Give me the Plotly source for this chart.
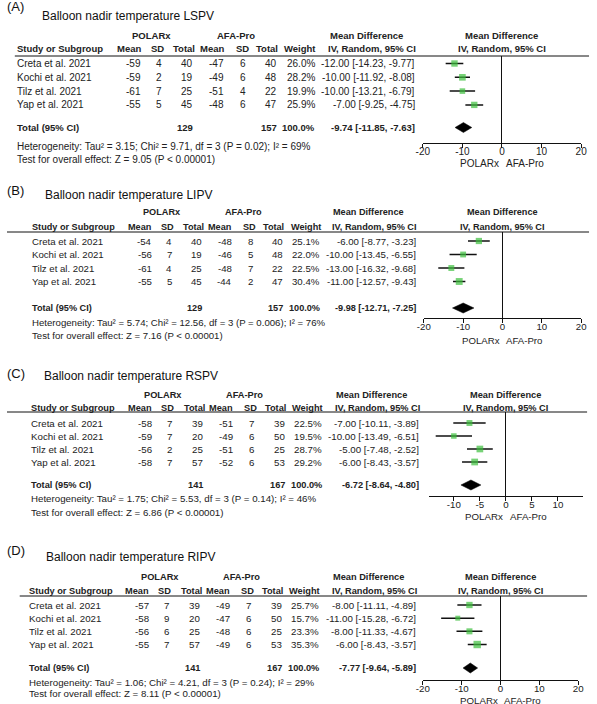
import plotly.graph_objects as go

W, H = 597, 704
FONT = "Liberation Sans, Arial, sans-serif"
TXT = "#222222"
GREEN = "#3dbf3d"

# ---------------- data ----------------
studies = ["Creta et al. 2021", "Kochi et al. 2021", "Tilz et al. 2021", "Yap et al. 2021"]
panel_labels = ["(A)", "(B)", "(C)", "(D)"]
panel_titles = ["Balloon nadir temperature LSPV", "Balloon nadir temperature LIPV",
                "Balloon nadir temperature RSPV", "Balloon nadir temperature RIPV"]
group_headers = ["POLARx", "AFA-Pro", "Mean Difference"]
column_headers = ["Mean", "SD", "Total", "Mean", "SD", "Total", "Weight", "IV, Random, 95% CI"]
favours = ["POLARx", "AFA-Pro"]
ticks_20 = [-20, -10, 0, 10, 20]
ticks_10 = [-10, -5, 0, 5, 10]

# LSPV
lspv_pol_mean = [-59, -59, -61, -55]
lspv_pol_sd = [4, 2, 7, 5]
lspv_pol_n = [40, 19, 25, 45]
lspv_afa_mean = [-47, -49, -51, -48]
lspv_afa_sd = [6, 6, 4, 6]
lspv_afa_n = [40, 48, 22, 47]
lspv_weight = [26.0, 28.2, 19.9, 25.9]
lspv_md = [-12.00, -10.00, -10.00, -7.00]
lspv_lo = [-14.23, -11.92, -13.21, -9.25]
lspv_hi = [-9.77, -8.08, -6.79, -4.75]
lspv_total_n = [129, 157]
lspv_total_w = 100.0
lspv_total_ci = [-9.74, -11.85, -7.63]
lspv_het = "Heterogeneity: Tau² = 3.15; Chi² = 9.71, df = 3 (P = 0.02); I² = 69%"
lspv_test = "Test for overall effect: Z = 9.05 (P < 0.00001)"

# LIPV
lipv_pol_mean = [-54, -56, -61, -55]
lipv_pol_sd = [4, 7, 4, 5]
lipv_pol_n = [40, 19, 25, 45]
lipv_afa_mean = [-48, -46, -48, -44]
lipv_afa_sd = [8, 5, 7, 2]
lipv_afa_n = [40, 48, 22, 47]
lipv_weight = [25.1, 22.0, 22.5, 30.4]
lipv_md = [-6.00, -10.00, -13.00, -11.00]
lipv_lo = [-8.77, -13.45, -16.32, -12.57]
lipv_hi = [-3.23, -6.55, -9.68, -9.43]
lipv_total_n = [129, 157]
lipv_total_w = 100.0
lipv_total_ci = [-9.98, -12.71, -7.25]
lipv_het = "Heterogeneity: Tau² = 5.74; Chi² = 12.56, df = 3 (P = 0.006); I² = 76%"
lipv_test = "Test for overall effect: Z = 7.16 (P < 0.00001)"

# RSPV
rspv_pol_mean = [-58, -59, -56, -58]
rspv_pol_sd = [7, 7, 2, 7]
rspv_pol_n = [39, 20, 25, 57]
rspv_afa_mean = [-51, -49, -51, -52]
rspv_afa_sd = [7, 6, 6, 6]
rspv_afa_n = [39, 50, 25, 53]
rspv_weight = [22.5, 19.5, 28.7, 29.2]
rspv_md = [-7.00, -10.00, -5.00, -6.00]
rspv_lo = [-10.11, -13.49, -7.48, -8.43]
rspv_hi = [-3.89, -6.51, -2.52, -3.57]
rspv_total_n = [141, 167]
rspv_total_w = 100.0
rspv_total_ci = [-6.72, -8.64, -4.80]
rspv_het = "Heterogeneity: Tau² = 1.75; Chi² = 5.53, df = 3 (P = 0.14); I² = 46%"
rspv_test = "Test for overall effect: Z = 6.86 (P < 0.00001)"

# RIPV
ripv_pol_mean = [-57, -58, -56, -55]
ripv_pol_sd = [7, 9, 6, 7]
ripv_pol_n = [39, 20, 25, 57]
ripv_afa_mean = [-49, -47, -48, -49]
ripv_afa_sd = [7, 6, 6, 6]
ripv_afa_n = [39, 50, 25, 53]
ripv_weight = [25.7, 15.7, 23.3, 35.3]
ripv_md = [-8.00, -11.00, -8.00, -6.00]
ripv_lo = [-11.11, -15.28, -11.33, -8.43]
ripv_hi = [-4.89, -6.72, -4.67, -3.57]
ripv_total_n = [141, 167]
ripv_total_w = 100.0
ripv_total_ci = [-7.77, -9.64, -5.89]
ripv_het = "Heterogeneity: Tau² = 1.06; Chi² = 4.21, df = 3 (P = 0.24); I² = 29%"
ripv_test = "Test for overall effect: Z = 8.11 (P < 0.00001)"

panels = [
    dict(pm=lspv_pol_mean, psd=lspv_pol_sd, pn=lspv_pol_n, am=lspv_afa_mean, asd=lspv_afa_sd,
         an=lspv_afa_n, w=lspv_weight, md=lspv_md, lo=lspv_lo, hi=lspv_hi, tn=lspv_total_n,
         tw=lspv_total_w, tci=lspv_total_ci, het=lspv_het, test=lspv_test, ticks=ticks_20),
    dict(pm=lipv_pol_mean, psd=lipv_pol_sd, pn=lipv_pol_n, am=lipv_afa_mean, asd=lipv_afa_sd,
         an=lipv_afa_n, w=lipv_weight, md=lipv_md, lo=lipv_lo, hi=lipv_hi, tn=lipv_total_n,
         tw=lipv_total_w, tci=lipv_total_ci, het=lipv_het, test=lipv_test, ticks=ticks_20),
    dict(pm=rspv_pol_mean, psd=rspv_pol_sd, pn=rspv_pol_n, am=rspv_afa_mean, asd=rspv_afa_sd,
         an=rspv_afa_n, w=rspv_weight, md=rspv_md, lo=rspv_lo, hi=rspv_hi, tn=rspv_total_n,
         tw=rspv_total_w, tci=rspv_total_ci, het=rspv_het, test=rspv_test, ticks=ticks_10),
    dict(pm=ripv_pol_mean, psd=ripv_pol_sd, pn=ripv_pol_n, am=ripv_afa_mean, asd=ripv_afa_sd,
         an=ripv_afa_n, w=ripv_weight, md=ripv_md, lo=ripv_lo, hi=ripv_hi, tn=ripv_total_n,
         tw=ripv_total_w, tci=ripv_total_ci, het=ripv_het, test=ripv_test, ticks=ticks_20),
]

# ---------------- layout geometry (pixels) ----------------
geoms = [
    dict(label_y=7, title_x=36, title_y=16, g1=35.5, g2=48.5, line_y=56, lx0=8, lx1=595,
         row1=63.5, pitch=13.8, total=127.5, axis_y=143, het_y=146, test_y=159,
         L=10, R=418, px0=425, px1=587, xr=[-20.02, 20.02], fav_y=163),
    dict(label_y=190, title_x=39, title_y=195, g1=212.5, g2=226.5, line_y=232, lx0=0, lx1=595,
         row1=241, pitch=13.5, total=308, axis_y=318, het_y=323, test_y=335,
         L=26, R=419, px0=426, px1=587, xr=[-20.02, 20.02], fav_y=340),
    dict(label_y=373, title_x=38, title_y=376, g1=394.5, g2=407.5, line_y=412, lx0=0, lx1=593,
         row1=423, pitch=13.0, total=485, axis_y=496, het_y=498.5, test_y=512,
         L=25, R=422, px0=431, px1=589, xr=[-14.85, 14.85], fav_y=516),
    dict(label_y=550, title_x=40, title_y=557, g1=577, g2=590.5, line_y=596, lx0=13, lx1=593,
         row1=605, pitch=13.17, total=668, axis_y=680, het_y=682, test_y=693.5,
         L=22, R=419, px0=425, px1=584, xr=[-20.02, 20.02], fav_y=700.5),
]
# reference column positions (panel A pixel space)
HDR_RIGHT = [137, 160, 192, 222, 247, 277, 316, 418]
VAL_RIGHT = [137, 158, 190, 222, 244, 276, 315, 417]
GRP_CENTER = [148, 234, 367]


def ann(text, x, y, xanchor="left", yref="paper", size=10, bold=False, color=TXT):
    yy = 1 - y / H if yref == "paper" else y
    return dict(text=f"<b>{text}</b>" if bold else text, x=x / W, y=yy, xref="paper", yref=yref,
                xanchor=xanchor, yanchor="middle", showarrow=False, borderpad=0, borderwidth=0,
                font=dict(size=size, color=color, family=FONT))


fig = go.Figure()
anns, shapes = [], []
layout_axes = {}

for k, (p, g) in enumerate(zip(panels, geoms), start=1):
    xa = "x" if k == 1 else f"x{k}"
    ya = "y" if k == 1 else f"y{k}"
    s = (g["R"] - g["L"]) / 408.0
    fsz = 10 * s
    bsz = 9.5 * s

    def fx(x):
        return g["L"] + (x - 10) * s

    # titles
    anns.append(ann(panel_labels[k - 1], 0, g["label_y"], size=13, color="#111"))
    anns.append(ann(panel_titles[k - 1], g["title_x"], g["title_y"], size=12, color="#111"))
    # header rows
    for txt, cx in zip(group_headers, GRP_CENTER):
        anns.append(ann(txt, fx(cx), g["g1"], "center", bold=True, size=bsz))
    anns.append(ann("Study or Subgroup", g["L"], g["g2"], bold=True, size=bsz))
    for txt, rx in zip(column_headers, HDR_RIGHT):
        anns.append(ann(txt, fx(rx), g["g2"], "right", bold=True, size=bsz))
    zero_px = g["px0"] + (0 - g["xr"][0]) / (g["xr"][1] - g["xr"][0]) * (g["px1"] - g["px0"])
    anns.append(ann("Mean Difference", zero_px, g["g1"], "center", bold=True, size=bsz))
    anns.append(ann("IV, Random, 95% CI", zero_px, g["g2"], "center", bold=True, size=bsz))
    shapes.append(dict(type="line", xref="paper", yref="paper", x0=g["lx0"] / W, x1=g["lx1"] / W,
                       y0=1 - g["line_y"] / H, y1=1 - g["line_y"] / H,
                       line=dict(color="#111", width=1)))

    # study rows
    rows = list(range(1, len(studies) + 1))
    for i, yv in enumerate(rows):
        cells = [str(p["pm"][i]), str(p["psd"][i]), str(p["pn"][i]),
                 str(p["am"][i]), str(p["asd"][i]), str(p["an"][i]),
                 f"{p['w'][i]:.1f}%", f"{p['md'][i]:.2f} [{p['lo'][i]:.2f}, {p['hi'][i]:.2f}]"]
        anns.append(ann(studies[i], g["L"], yv, yref=ya, size=fsz))
        for c, rx in zip(cells, VAL_RIGHT):
            anns.append(ann(c, fx(rx), yv, "right", yref=ya, size=fsz))

    # total row
    ty = 1 + (g["total"] - g["row1"]) / g["pitch"]
    anns.append(ann("Total (95% CI)", g["L"], ty, yref=ya, bold=True, size=bsz))
    anns.append(ann(str(p["tn"][0]), fx(VAL_RIGHT[2]), ty, "right", yref=ya, bold=True, size=bsz))
    anns.append(ann(str(p["tn"][1]), fx(VAL_RIGHT[5]), ty, "right", yref=ya, bold=True, size=bsz))
    anns.append(ann(f"{p['tw']:.1f}%", fx(VAL_RIGHT[6]), ty, "right", yref=ya, bold=True, size=bsz))
    tci = p["tci"]
    anns.append(ann(f"{tci[0]:.2f} [{tci[1]:.2f}, {tci[2]:.2f}]", fx(VAL_RIGHT[7]), ty, "right",
                    yref=ya, bold=True, size=bsz))
    anns.append(ann(p["het"], g["L"], g["het_y"], size=fsz))
    anns.append(ann(p["test"], g["L"], g["test_y"], size=fsz))

    # favours labels
    anns.append(ann(favours[0], zero_px - 3, g["fav_y"], "right", size=fsz))
    anns.append(ann(favours[1], zero_px + 4, g["fav_y"], "left", size=fsz))

    # forest marks
    fig.add_trace(go.Scatter(
        x=p["md"], y=rows, mode="markers", xaxis=xa, yaxis=ya, cliponaxis=False,
        marker=dict(symbol="square", color=GREEN, size=[1.25 * (w ** 0.5) for w in p["w"]],
                    line=dict(width=0)),
        error_x=dict(type="data", symmetric=False,
                     array=[h - m for h, m in zip(p["hi"], p["md"])],
                     arrayminus=[m - l for m, l in zip(p["md"], p["lo"])],
                     color="#111", thickness=1.5, width=0),
        hoverinfo="skip", showlegend=False))
    hh = 5.0 / g["pitch"]
    fig.add_trace(go.Scatter(
        x=[tci[1], tci[0], tci[2], tci[0], tci[1]], y=[ty, ty - hh, ty, ty + hh, ty],
        mode="lines", fill="toself", fillcolor="#000", line=dict(color="#000", width=0.5),
        xaxis=xa, yaxis=ya, cliponaxis=False, hoverinfo="skip", showlegend=False))

    ytop = 1 + (g["line_y"] - g["row1"]) / g["pitch"]
    ybot = 1 + (g["axis_y"] - g["row1"]) / g["pitch"]
    xkey = "xaxis" if k == 1 else f"xaxis{k}"
    ykey = "yaxis" if k == 1 else f"yaxis{k}"
    layout_axes[xkey] = dict(domain=[g["px0"] / W, g["px1"] / W], anchor=ya, range=g["xr"],
                             tickmode="array", tickvals=p["ticks"], ticktext=[str(t) for t in p["ticks"]],
                             ticks="outside", ticklen=4, tickcolor="#111", tickwidth=1,
                             ticklabelstandoff=-5,
                             showline=True, linecolor="#111", linewidth=1,
                             zeroline=True, zerolinecolor="#111", zerolinewidth=1,
                             showgrid=False, fixedrange=True,
                             tickfont=dict(size=fsz, color=TXT, family=FONT))
    layout_axes[ykey] = dict(domain=[1 - g["axis_y"] / H, 1 - g["line_y"] / H], anchor=xa,
                             range=[ybot, ytop], visible=False, fixedrange=True)

fig.update_layout(width=W, height=H, margin=dict(l=0, r=0, t=0, b=0),
                  paper_bgcolor="white", plot_bgcolor="white", showlegend=False,
                  annotations=anns, shapes=shapes, font=dict(family=FONT, color=TXT),
                  **layout_axes)

fig.write_html("out.html", config={"displayModeBar": False},
               post_script="document.body.style.margin='0';")
